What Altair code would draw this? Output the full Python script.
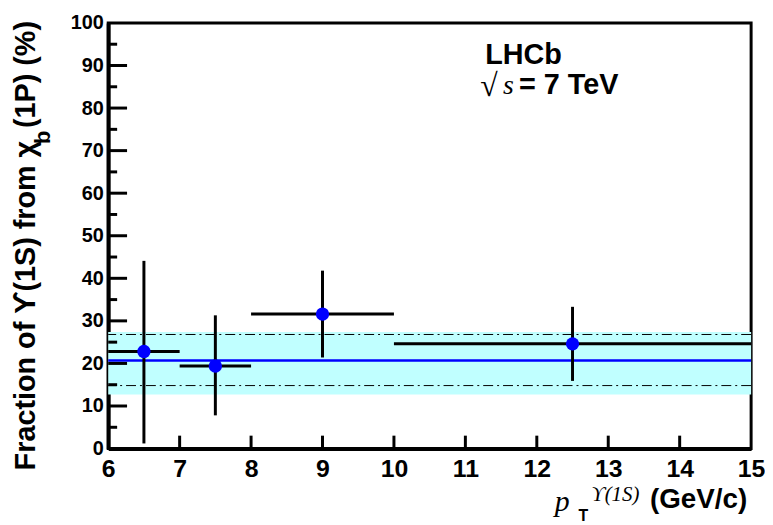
import altair as alt
import pandas as pd

# ---- data ----
pt_center = [6.5, 7.5, 9.0, 12.5]
pt_low = [6, 7, 8, 10]
pt_high = [7, 8, 10, 15]
frac = [22.8, 19.4, 31.6, 24.6]
frac_low = [1.2, 7.8, 21.4, 15.9]
frac_high = [44.1, 31.3, 41.8, 33.3]
fit_value = [20.7]
band_low = [12.7]
band_high = [27.4]
dash_values = [14.8, 26.8]
x_range = [6, 15]
y_range = [0, 100]
x_labels = list(range(6, 16))
y_labels = list(range(0, 101, 10))
y_major = list(range(10, 100, 10))
y_minor = list(range(5, 100, 10))
x_major = list(range(7, 15))

W, H = 648, 429
SANS = "Liberation Sans"
SERIF = "Liberation Serif"

pts = pd.DataFrame(dict(pt=pt_center, lo=pt_low, hi=pt_high, f=frac, flo=frac_low, fhi=frac_high))
xs = alt.Scale(domain=x_range, nice=False, zero=False)
ys = alt.Scale(domain=y_range, nice=False, zero=False)

x_axis = alt.Axis(values=x_labels, format="d", labelFont=SANS, labelFontWeight="bold",
                  labelFontSize=25, labelColor="black", ticks=False, domain=True,
                  domainWidth=4, domainColor="black", grid=False, title=None,
                  labelPadding=8, labelFlush=False)
y_axis = alt.Axis(values=y_labels, format="d", labelFont=SANS, labelFontWeight="bold",
                  labelFontSize=20, labelColor="black", ticks=False, domain=True,
                  domainWidth=4, domainColor="black", grid=False, title=None,
                  labelPadding=5, labelFlush=False)


def X(field):
    return alt.X(field, scale=xs, axis=x_axis)


def Y(field):
    return alt.Y(field, scale=ys, axis=y_axis)


band_df = pd.DataFrame({"x": [x_range[0]], "x2": [x_range[1]], "y": band_low, "y2": band_high})
band = alt.Chart(band_df).mark_rect(color="#c0ffff").encode(
    x=X("x:Q"), x2="x2:Q", y=Y("y:Q"), y2="y2:Q")

dash = alt.Chart(pd.DataFrame({"y": dash_values})).mark_rule(
    color="black", strokeWidth=1, strokeDash=[10, 4, 2, 4]).encode(y=Y("y:Q"))

fit = alt.Chart(pd.DataFrame({"y": fit_value})).mark_rule(
    color="#0000ff", strokeWidth=2.5).encode(y=Y("y:Q"))

xerr = alt.Chart(pts).mark_rule(color="black", strokeWidth=3).encode(
    x=X("lo:Q"), x2="hi:Q", y=Y("f:Q"))
yerr = alt.Chart(pts).mark_rule(color="black", strokeWidth=3).encode(
    x=X("pt:Q"), y=Y("flo:Q"), y2="fhi:Q")
dots = alt.Chart(pts).mark_circle(color="#0000ff", opacity=1, size=180).encode(
    x=X("pt:Q"), y=Y("f:Q"))

ymaj = alt.Chart(pd.DataFrame({"y": y_major})).mark_rule(color="black", strokeWidth=3).encode(
    y=Y("y:Q"), x=alt.value(0), x2=alt.value(19))
ymin = alt.Chart(pd.DataFrame({"y": y_minor})).mark_rule(color="black", strokeWidth=3).encode(
    y=Y("y:Q"), x=alt.value(0), x2=alt.value(9))
xmaj = alt.Chart(pd.DataFrame({"x": x_major})).mark_rule(color="black", strokeWidth=3).encode(
    x=X("x:Q"), y=alt.value(H), y2=alt.value(H - 13))


def txt(s, x, y, size, font=SANS, weight="bold", style="normal", align="left", angle=0):
    return alt.Chart(pd.DataFrame({"t": [s]})).mark_text(
        font=font, fontSize=size, fontWeight=weight, fontStyle=style, align=align,
        baseline="alphabetic", angle=angle, color="black").encode(
        text="t:N", x=alt.value(x), y=alt.value(y))


texts = [
    txt("LHCb", 380, 41, 29),
    txt("\u221a", 375, 74, 32, font=SERIF, weight="normal"),
    txt("s", 398, 72, 28, font=SERIF, weight="normal", style="italic"),
    txt("= 7 TeV", 414, 72, 29),
    # x title
    txt("p", 450, 492, 30, font=SERIF, weight="normal", style="italic"),
    txt("T", 474, 502, 16),
    txt("\u03d2(1S)", 487, 482, 21, font=SERIF, weight="normal", style="italic"),
    txt("(GeV/c)", 644, 489, 28, align="right"),
    # y title
    txt("Fraction of \u03d2(1S) from \u03c7", -74, 451, 29, angle=270),
    txt("b", -59, 122, 22, angle=270),
    txt("(1P) (%)", -74, 106, 29, angle=270),
]

chart = alt.layer(band, dash, fit, xerr, yerr, dots, ymaj, ymin, xmaj, *texts).properties(
    width=W, height=H,
    autosize=alt.AutoSizeParams(type="none"),
    padding={"left": 101, "top": 13, "right": 14, "bottom": 75},
    background="white",
).configure_view(stroke="black", strokeWidth=3)

chart.save("out.html", embed_options={"renderer": "svg", "actions": False})
